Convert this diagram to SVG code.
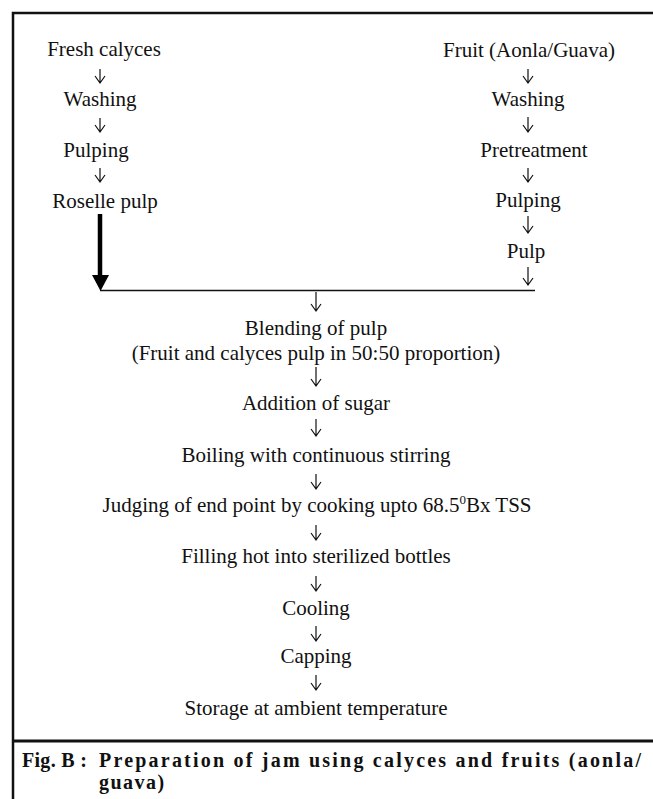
<svg xmlns="http://www.w3.org/2000/svg" width="653" height="799" viewBox="0 0 653 799">
<style>
.t{font-family:"Liberation Serif","Times New Roman",serif;font-size:21px;fill:#111;text-anchor:middle}
.c{font-family:"Liberation Serif","Times New Roman",serif;font-size:20px;font-weight:bold;fill:#111}
.a{fill:none;stroke:#111;stroke-width:1.2}
</style>
<rect width="653" height="799" fill="#fff"/>
<g id="frame">
<path d="M13 799V13H660" fill="none" stroke="#111" stroke-width="2.5"/>
<path d="M13 741H660" fill="none" stroke="#111" stroke-width="3"/>
</g>
<g id="left">
<g id="fresh-calyces"><text class="t" x="104" y="56">Fresh calyces</text></g>
<g id="washing-l"><text class="t" x="100" y="106">Washing</text></g>
<g id="pulping-l"><text class="t" x="96" y="157">Pulping</text></g>
<g id="roselle-pulp"><text class="t" x="105" y="208">Roselle pulp</text></g>
</g>
<g id="right">
<g id="fruit"><text class="t" x="529" y="57">Fruit (Aonla/Guava)</text></g>
<g id="washing-r"><text class="t" x="528" y="106">Washing</text></g>
<g id="pretreatment"><text class="t" x="534" y="157">Pretreatment</text></g>
<g id="pulping-r"><text class="t" x="528" y="207">Pulping</text></g>
<g id="pulp"><text class="t" x="526" y="258">Pulp</text></g>
</g>
<g id="center">
<g id="blending"><text class="t" x="316" y="335">Blending of pulp</text><text class="t" x="316" y="360">(Fruit and calyces pulp in 50:50 proportion)</text></g>
<g id="sugar"><text class="t" x="316" y="410">Addition of sugar</text></g>
<g id="boiling"><text class="t" x="316" y="462">Boiling with continuous stirring</text></g>
<g id="judging"><text class="t" x="317" y="512">Judging of end point by cooking upto 68.5<tspan font-size="13" dy="-8">0</tspan><tspan dy="8">Bx TSS</tspan></text></g>
<g id="filling"><text class="t" x="316" y="563">Filling hot into sterilized bottles</text></g>
<g id="cooling"><text class="t" x="316" y="615">Cooling</text></g>
<g id="capping"><text class="t" x="316" y="663">Capping</text></g>
<g id="storage"><text class="t" x="316" y="715">Storage at ambient temperature</text></g>
</g>
<g id="connectors">
<path class="a" d="M100 69V83M95 76L100 83L105 76"/>
<path class="a" d="M100 118V132M95 125L100 132L105 125"/>
<path class="a" d="M100 168V182M95 175L100 182L105 175"/>
<path class="a" d="M528 69V83M523 76L528 83L533 76"/>
<path class="a" d="M528 117V132M523 125L528 132L533 125"/>
<path class="a" d="M528 168V182M523 175L528 182L533 175"/>
<path class="a" d="M528 216V233M523 226L528 233L533 226"/>
<path class="a" d="M528 267V285M523 278L528 285L533 278"/>
<path d="M100 214V277" stroke="#000" stroke-width="4.5" fill="none"/>
<path d="M92 275L109 275L100.5 291Z" fill="#000"/>
<path d="M100 290.5H535" stroke="#111" stroke-width="1.4" fill="none"/>
<path class="a" d="M316 292V311M311 304L316 311L321 304"/>
<path class="a" d="M316 367V386M311 379L316 386L321 379"/>
<path class="a" d="M316 419V436M311 429L316 436L321 429"/>
<path class="a" d="M316 474V489M311 482L316 489L321 482"/>
<path class="a" d="M316 525V540M311 533L316 540L321 533"/>
<path class="a" d="M316 576V591M311 584L316 591L321 584"/>
<path class="a" d="M316 626V641M311 634L316 641L321 634"/>
<path class="a" d="M316 675V690M311 683L316 690L321 683"/>
</g>
<g id="caption">
<text class="c" x="22" y="767" letter-spacing="0.3">Fig. B :</text>
<text class="c" x="99" y="767" textLength="542" lengthAdjust="spacing">Preparation of jam using calyces and fruits (aonla/</text>
<text class="c" x="99" y="789" letter-spacing="1.5">guava)</text>
</g>
</svg>
